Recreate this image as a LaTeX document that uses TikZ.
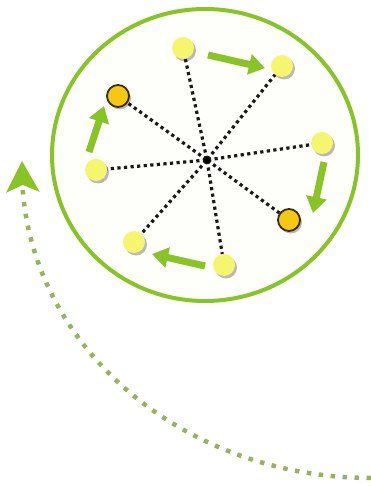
\documentclass[tikz,border=0pt]{standalone}
\usetikzlibrary{arrows.meta,shadows}
\definecolor{lgreen}{RGB}{137,196,38}
\definecolor{dgreen}{RGB}{150,180,95}
\definecolor{pyellow}{RGB}{246,246,110}
\definecolor{gold}{RGB}{246,200,20}
\definecolor{brn}{RGB}{60,45,10}
\definecolor{offw}{RGB}{254,254,250}
\tikzset{
  ball/.style={circle,minimum size=22pt,inner sep=0pt,fill=pyellow,
    drop shadow={shadow xshift=2pt,shadow yshift=-2.5pt,fill=black!45,opacity=.6}},
  hotball/.style={ball,fill=gold,draw=brn,line width=1.8pt},
  ray/.style={line width=3.2pt,black!90,dash pattern=on 3.2pt off 3.4pt,shorten <=1pt},
  move/.style={lgreen,line width=7pt,-{Triangle[width=20pt,length=16pt]}},
  loop/.style={dgreen,line width=4.5pt,dash pattern=on 4.5pt off 7.5pt,
    -{Stealth[width=33pt,length=31pt,inset=7pt,lgreen]}}
}
\begin{document}
\begin{tikzpicture}[x=1pt,y=-1pt]
\useasboundingbox (0,0) rectangle (371,486);
\draw[lgreen,line width=4pt,fill=offw] (205,155) ellipse [x radius=153,y radius=146];
\coordinate (c) at (207,160);
\node[ball] (n1) at (183,48) {};
\node[ball] (n2) at (282,66) {};
\node[hotball] (n3) at (118,96) {};
\node[ball] (n4) at (322,143) {};
\node[ball] (n5) at (96,170) {};
\node[hotball] (n6) at (289,220) {};
\node[ball] (n7) at (134,242) {};
\node[ball] (n8) at (224,265) {};
\foreach \n in {n1,n2,n3,n4,n5,n6,n7,n8} \draw[ray] (c) -- (\n);
\fill[black] (c) circle (3pt);
\coordinate (a1s) at (208,55); \coordinate (a1e) at (265,68);
\coordinate (a2s) at (89,152); \coordinate (a2e) at (104,106);
\coordinate (a3s) at (324,162); \coordinate (a3e) at (313,213);
\coordinate (a4s) at (205,266); \coordinate (a4e) at (152,254);
\draw[move] (a1s) -- (a1e);
\draw[move] (a2s) -- (a2e);
\draw[move] (a3s) -- (a3e);
\draw[move] (a4s) -- (a4e);
\coordinate (tip) at (22,161);
\draw[loop] plot[domain=90:176,samples=60] ({371+349*cos(\x)},{170+308*sin(\x)}) -- (tip);
\end{tikzpicture}
\end{document}
